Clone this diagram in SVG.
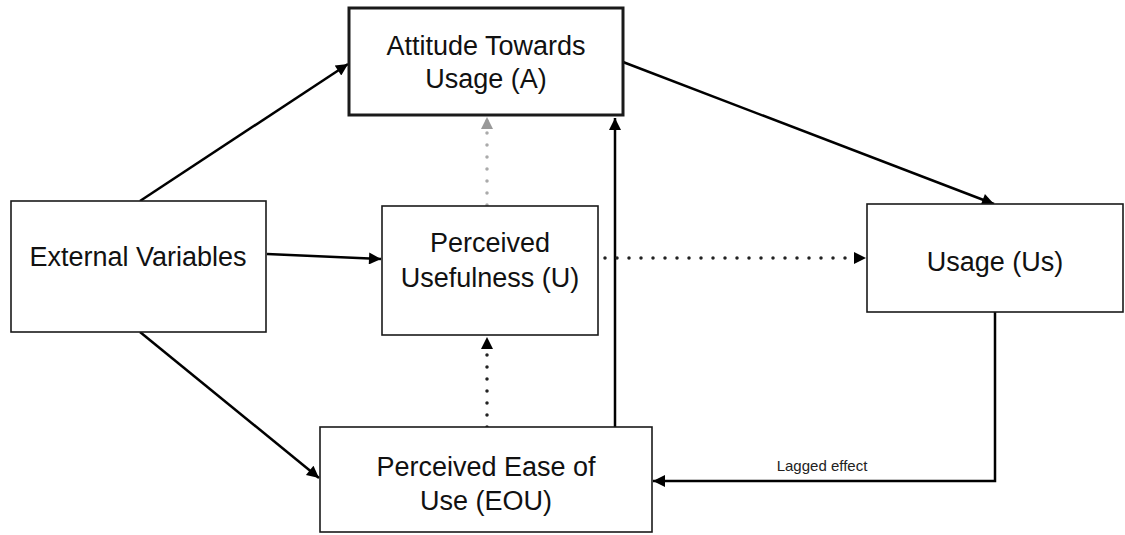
<svg xmlns="http://www.w3.org/2000/svg" width="1125" height="535" viewBox="0 0 1125 535">
<style>
.box{fill:#fff;stroke:#1a1a1a;stroke-width:1.6}
.boxb{fill:#fff;stroke:#1a1a1a;stroke-width:3}
.t{font-family:"Liberation Sans",Arial,sans-serif;font-size:27px;fill:#111;text-anchor:middle}
.s{font-family:"Liberation Sans",Arial,sans-serif;font-size:15px;fill:#222;text-anchor:middle}
.c{fill:none;stroke:#000;stroke-width:2.5}
.d{fill:none;stroke:#222;stroke-width:3.5;stroke-linecap:round;stroke-dasharray:0 12}
.g{fill:none;stroke:#aaa;stroke-width:3.5;stroke-linecap:round;stroke-dasharray:0 12}
</style>
<defs>
<marker id="ah" viewBox="0 0 10 10" refX="10" refY="5" markerWidth="15" markerHeight="12" markerUnits="userSpaceOnUse" orient="auto"><path d="M0,0 L10,5 L0,10 z" fill="#000"/></marker>
<marker id="ahg" viewBox="0 0 10 10" refX="10" refY="5" markerWidth="15" markerHeight="12" markerUnits="userSpaceOnUse" orient="auto"><path d="M0,0 L10,5 L0,10 z" fill="#999"/></marker>
</defs>
<rect width="1125" height="535" fill="#fff"/>
<g id="connectors">
<line class="c" x1="140" y1="201" x2="348" y2="64" marker-end="url(#ah)"/>
<line class="c" x1="267" y1="254" x2="381" y2="259" marker-end="url(#ah)"/>
<line class="c" x1="140" y1="332" x2="319" y2="478" marker-end="url(#ah)"/>
<line class="g" x1="487" y1="205" x2="487" y2="117" marker-end="url(#ahg)"/>
<line class="d" x1="487" y1="427" x2="487" y2="337" marker-end="url(#ah)"/>
<line class="c" x1="615" y1="427" x2="615" y2="118" marker-end="url(#ah)"/>
<line class="c" x1="623" y1="62" x2="994" y2="204" marker-end="url(#ah)"/>
<line class="d" x1="605" y1="258" x2="866" y2="258" marker-end="url(#ah)"/>
<polyline class="c" points="995,312 995,481 653,481" marker-end="url(#ah)"/>
<text class="s" x="822" y="471">Lagged effect</text>
</g>
<g id="node-attitude">
<rect class="boxb" x="349" y="8" width="274" height="107"/>
<text class="t" x="486" y="55">Attitude Towards</text>
<text class="t" x="486" y="88">Usage (A)</text>
</g>
<g id="node-external">
<rect class="box" x="11" y="201" width="255" height="131"/>
<text class="t" x="138" y="266">External Variables</text>
</g>
<g id="node-usefulness">
<rect class="box" x="382" y="206" width="216" height="129"/>
<text class="t" x="490" y="252">Perceived</text>
<text class="t" x="490" y="287">Usefulness (U)</text>
</g>
<g id="node-usage">
<rect class="box" x="867" y="204" width="256" height="108"/>
<text class="t" x="995" y="271">Usage (Us)</text>
</g>
<g id="node-eou">
<rect class="box" x="320" y="427" width="332" height="105"/>
<text class="t" x="486" y="476">Perceived Ease of</text>
<text class="t" x="486" y="510">Use (EOU)</text>
</g>
</svg>
